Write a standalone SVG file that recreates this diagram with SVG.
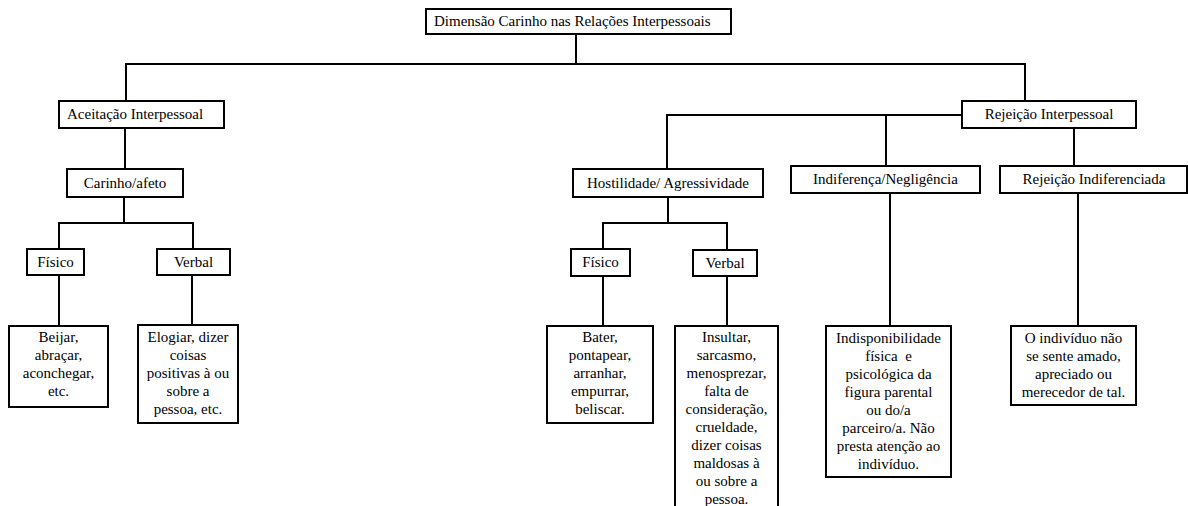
<svg xmlns="http://www.w3.org/2000/svg" width="1188" height="506" viewBox="0 0 1188 506">
<style>
.box{fill:#fff;stroke:#000;stroke-width:2}
.ln{fill:none;stroke:#000;stroke-width:2}
text{font-family:"Liberation Serif","Times New Roman",serif;font-size:15px;fill:#000;text-anchor:middle}
.l{text-anchor:start}
</style>
<rect width="1188" height="506" fill="#fff"/>
<g id="connectors">
<path class="ln" d="M576 34V64M126 101V64H1025V101"/>
<path class="ln" d="M125 128V169"/>
<path class="ln" d="M124 197V223M59 249V223H193V249"/>
<path class="ln" d="M59 275V326M192 275V325"/>
<path class="ln" d="M962 115H667V169"/>
<path class="ln" d="M886 115V166M1074 128V166"/>
<path class="ln" d="M668 197V223M603 249V223H727V250"/>
<path class="ln" d="M603 276V326M727 276V326"/>
<path class="ln" d="M890 193V326M1078 193V326"/>
</g>
<g id="n-root"><rect class="box" x="426" y="9" width="305" height="25"/><text class="l" x="434" y="26">Dimensão Carinho nas Relações Interpessoais</text></g>
<g id="n-aceitacao"><rect class="box" x="59" y="101" width="165" height="27"/><text class="l" x="67" y="119">Aceitação Interpessoal</text></g>
<g id="n-carinho"><rect class="box" x="67" y="169" width="116" height="28"/><text x="125" y="188">Carinho/afeto</text></g>
<g id="n-fisico1"><rect class="box" x="27" y="249" width="57" height="26"/><text x="55.5" y="267">Físico</text></g>
<g id="n-verbal1"><rect class="box" x="157" y="249" width="73" height="26"/><text x="193.5" y="267">Verbal</text></g>
<g id="n-beijar"><rect class="box" x="9" y="326" width="99" height="81"/>
<text x="58.5" y="342">Beijar,</text><text x="58.5" y="360">abraçar,</text><text x="58.5" y="378">aconchegar,</text><text x="58.5" y="396">etc.</text></g>
<g id="n-elogiar"><rect class="box" x="138" y="325" width="100" height="98"/>
<text x="188" y="342">Elogiar, dizer</text><text x="188" y="360">coisas</text><text x="188" y="378">positivas à ou</text><text x="188" y="396">sobre a</text><text x="188" y="414">pessoa, etc.</text></g>
<g id="n-rejeicao"><rect class="box" x="962" y="101" width="174" height="27"/><text x="1049" y="119">Rejeição Interpessoal</text></g>
<g id="n-hostilidade"><rect class="box" x="573" y="169" width="190" height="28"/><text x="668" y="188">Hostilidade/ Agressividade</text></g>
<g id="n-indiferenca"><rect class="box" x="791" y="166" width="189" height="27"/><text x="885.5" y="184">Indiferença/Negligência</text></g>
<g id="n-rejind"><rect class="box" x="1000" y="166" width="187" height="27"/><text x="1094" y="184">Rejeição Indiferenciada</text></g>
<g id="n-fisico2"><rect class="box" x="571" y="249" width="59" height="27"/><text x="600.5" y="267">Físico</text></g>
<g id="n-verbal2"><rect class="box" x="693" y="250" width="64" height="26"/><text x="725" y="268">Verbal</text></g>
<g id="n-bater"><rect class="box" x="547" y="326" width="106" height="97"/>
<text x="600" y="342">Bater,</text><text x="600" y="360">pontapear,</text><text x="600" y="378">arranhar,</text><text x="600" y="396">empurrar,</text><text x="600" y="414">beliscar.</text></g>
<g id="n-insultar"><rect class="box" x="675" y="326" width="103" height="190"/>
<text x="726.5" y="342">Insultar,</text><text x="726.5" y="360">sarcasmo,</text><text x="726.5" y="378">menosprezar,</text><text x="726.5" y="396">falta de</text><text x="726.5" y="414">consideração,</text><text x="726.5" y="432">crueldade,</text><text x="726.5" y="450">dizer coisas</text><text x="726.5" y="468">maldosas à</text><text x="726.5" y="486">ou sobre a</text><text x="726.5" y="504">pessoa.</text></g>
<g id="n-indisp"><rect class="box" x="826" y="326" width="125" height="151"/>
<text x="888.5" y="343">Indisponibilidade</text><text x="888.5" y="361" xml:space="preserve">física  e</text><text x="888.5" y="379">psicológica da</text><text x="888.5" y="397">figura parental</text><text x="888.5" y="415">ou do/a</text><text x="888.5" y="433">parceiro/a. Não</text><text x="888.5" y="451">presta atenção ao</text><text x="888.5" y="469">indivíduo.</text></g>
<g id="n-oindividuo"><rect class="box" x="1011" y="326" width="125" height="79"/>
<text x="1073.5" y="343">O indivíduo não</text><text x="1073.5" y="361">se sente amado,</text><text x="1073.5" y="379">apreciado ou</text><text x="1073.5" y="397">merecedor de tal.</text></g>
</svg>
